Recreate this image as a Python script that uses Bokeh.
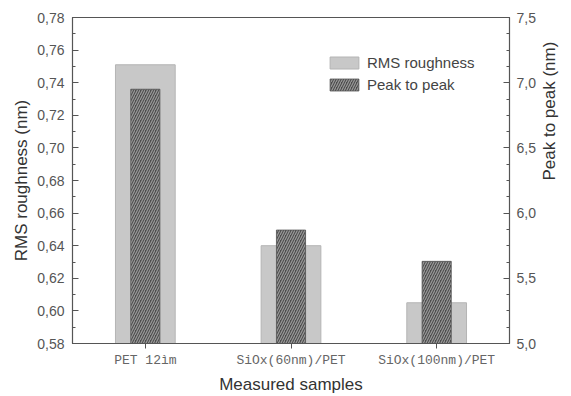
import math
from bokeh.plotting import figure
from bokeh.models import (Range1d, LinearAxis, FixedTicker, CustomJSTickFormatter,
                          Legend, LegendItem, ColumnDataSource)
from bokeh.embed import file_html
from bokeh.resources import INLINE

# ---- data ----
samples = ["PET 12ìm", "SiOx(60nm)/PET", "SiOx(100nm)/PET"]
rms_roughness = [0.751, 0.640, 0.605]      # nm, left axis
peak_to_peak = [6.95, 5.87, 5.63]          # nm, right axis
left_ticks = [0.58, 0.60, 0.62, 0.64, 0.66, 0.68, 0.70, 0.72, 0.74, 0.76, 0.78]
right_ticks = [5.0, 5.5, 6.0, 6.5, 7.0, 7.5]

pos = list(range(len(samples)))
src = ColumnDataSource(dict(x=pos, rms=rms_roughness, p2p=peak_to_peak))

p = figure(width=571, height=396, x_range=Range1d(-0.5, len(samples) - 0.5),
           y_range=Range1d(0.58, 0.78), output_backend="svg", toolbar_location=None,
           min_border_left=72, min_border_right=53, min_border_top=17, min_border_bottom=53)
p.extra_y_ranges = {"p2p": Range1d(5.0, 7.5)}

p.background_fill_color = "white"
p.border_fill_color = "white"
p.outline_line_color = "#555555"
p.outline_line_width = 1.2
p.xgrid.visible = False
p.ygrid.visible = False

r1 = p.vbar(x="x", top="rms", bottom=0, width=0.41, source=src,
            fill_color="#c8c8c8", line_color="#b4b4b4", line_width=1)
r2 = p.vbar(x="x", top="p2p", bottom=0, width=0.2, source=src, y_range_name="p2p",
            fill_color="#4c4c4c", line_color="#555555", line_width=0.8,
            hatch_pattern="/", hatch_color="#9a9a9a", hatch_scale=5, hatch_weight=1.2)

tick_font = "Liberation Sans"

# left axis
ya = p.yaxis[0]
ya.ticker = FixedTicker(ticks=left_ticks,
                        minor_ticks=[round(0.58 + 0.01 * i, 2) for i in range(21)])
ya.formatter = CustomJSTickFormatter(code="return tick.toFixed(2).replace('.', ',');")
ya.axis_label = "RMS roughness (nm)"
ya.axis_label_standoff = 3

# right axis (ticks)
ra = LinearAxis(y_range_name="p2p")
ra.ticker = FixedTicker(ticks=right_ticks,
                        minor_ticks=[5.0 + 0.125 * i for i in range(21)])
ra.formatter = CustomJSTickFormatter(code="return tick.toFixed(1).replace('.', ',');")
p.add_layout(ra, "right")

for ax in (ya, ra):
    ax.major_tick_in = 6
    ax.major_tick_out = 0
    ax.minor_tick_in = 3
    ax.minor_tick_out = 0
    ax.axis_line_color = "#555555"
    ax.major_tick_line_color = "#555555"
    ax.minor_tick_line_color = "#555555"
    ax.major_label_text_font = tick_font
    ax.major_label_text_font_size = "14px"
    ax.major_label_text_color = "#555555"
    ax.major_label_standoff = 8
ra.major_label_standoff = 7

xa = p.xaxis[0]
xa.ticker = FixedTicker(ticks=pos, minor_ticks=[])
xa.major_label_overrides = {i: s for i, s in zip(pos, samples)}
xa.major_tick_in = 0
xa.major_tick_out = 5
xa.minor_tick_in = 0
xa.minor_tick_out = 0
xa.axis_line_color = "#555555"
xa.major_tick_line_color = "#555555"
xa.major_label_text_font = "Liberation Mono"
xa.major_label_text_font_size = "13px"
xa.major_label_text_color = "#666666"
xa.major_label_standoff = 4

# label-only axes (placed outside the tick axes)
ra_lab = LinearAxis(y_range_name="p2p", ticker=FixedTicker(ticks=[]),
                    axis_label="Peak to peak (nm)")
ra_lab.axis_label_orientation = math.pi / 2
p.add_layout(ra_lab, "right")

xa_lab = LinearAxis(ticker=FixedTicker(ticks=[]), axis_label="Measured samples")
p.add_layout(xa_lab, "below")

for ax in (ya, ra_lab, xa_lab):
    ax.axis_label_text_font = tick_font
    ax.axis_label_text_font_size = "17px"
    ax.axis_label_text_font_style = "normal"
    ax.axis_label_text_color = "#333333"
for ax in (ra_lab, xa_lab):
    ax.axis_line_color = None
    ax.major_tick_line_color = None
    ax.minor_tick_line_color = None
    ax.major_tick_out = 0
    ax.major_tick_in = 0
    ax.minor_tick_out = 0
    ax.minor_tick_in = 0
    ax.major_label_standoff = 0
ra_lab.axis_label_standoff = 11
xa_lab.axis_label_standoff = 4

legend = Legend(items=[LegendItem(label="RMS roughness", renderers=[r1]),
                       LegendItem(label="Peak to peak", renderers=[r2])],
                location=(254, 250))
legend.margin = 0
legend.padding = 0
legend.spacing = 5
legend.glyph_width = 36
legend.glyph_height = 15
legend.label_height = 15
legend.label_standoff = 5
legend.label_text_font = tick_font
legend.label_text_font_size = "15px"
legend.label_text_color = "#444444"
legend.border_line_color = None
legend.background_fill_alpha = 0
p.add_layout(legend, "center")

open("out.html", "w").write(file_html(p, INLINE))
